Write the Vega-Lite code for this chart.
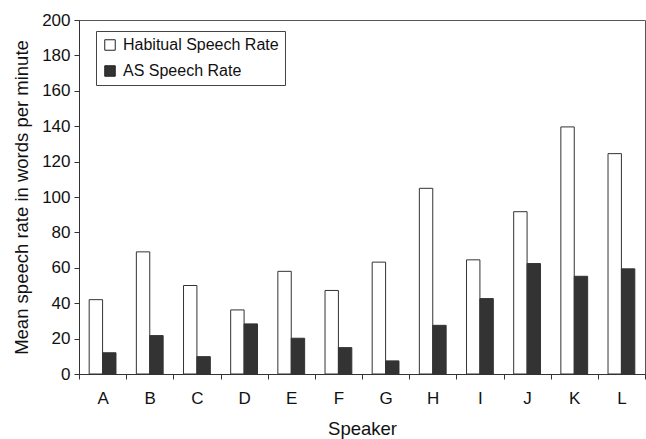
{
  "$schema": "https://vega.github.io/schema/vega-lite/v6.json",
  "width": 566,
  "height": 354,
  "autosize": {"type": "none"},
  "padding": {"left": 79, "top": 20, "right": 1, "bottom": 65},
  "background": "white",
  "config": {
    "font": "Liberation Sans",
    "view": {"stroke": "#555", "strokeWidth": 1},
    "axis": {"grid": false, "domainColor": "#333", "tickColor": "#333", "labelColor": "#111", "titleColor": "#111", "labelFontWeight": "normal", "titleFontWeight": "normal"}
  },
  "data": {
    "values": [
      {"speaker": "A", "measure": "Habitual Speech Rate", "rate": 42},
      {"speaker": "A", "measure": "AS Speech Rate", "rate": 12},
      {"speaker": "B", "measure": "Habitual Speech Rate", "rate": 69},
      {"speaker": "B", "measure": "AS Speech Rate", "rate": 21.7},
      {"speaker": "C", "measure": "Habitual Speech Rate", "rate": 50},
      {"speaker": "C", "measure": "AS Speech Rate", "rate": 9.8},
      {"speaker": "D", "measure": "Habitual Speech Rate", "rate": 36.2},
      {"speaker": "D", "measure": "AS Speech Rate", "rate": 28.3},
      {"speaker": "E", "measure": "Habitual Speech Rate", "rate": 58},
      {"speaker": "E", "measure": "AS Speech Rate", "rate": 20.2},
      {"speaker": "F", "measure": "Habitual Speech Rate", "rate": 47.2},
      {"speaker": "F", "measure": "AS Speech Rate", "rate": 14.9},
      {"speaker": "G", "measure": "Habitual Speech Rate", "rate": 63.2},
      {"speaker": "G", "measure": "AS Speech Rate", "rate": 7.4},
      {"speaker": "H", "measure": "Habitual Speech Rate", "rate": 104.9},
      {"speaker": "H", "measure": "AS Speech Rate", "rate": 27.5},
      {"speaker": "I", "measure": "Habitual Speech Rate", "rate": 64.5},
      {"speaker": "I", "measure": "AS Speech Rate", "rate": 42.6},
      {"speaker": "J", "measure": "Habitual Speech Rate", "rate": 91.7},
      {"speaker": "J", "measure": "AS Speech Rate", "rate": 62.4},
      {"speaker": "K", "measure": "Habitual Speech Rate", "rate": 139.6},
      {"speaker": "K", "measure": "AS Speech Rate", "rate": 55.2},
      {"speaker": "L", "measure": "Habitual Speech Rate", "rate": 124.5},
      {"speaker": "L", "measure": "AS Speech Rate", "rate": 59.4}
    ]
  },
  "mark": {"type": "bar", "stroke": "#333", "strokeWidth": 1},
  "encoding": {
    "x": {
      "field": "speaker", "type": "nominal", "title": "Speaker",
      "scale": {"paddingInner": 0, "paddingOuter": 0},
      "axis": {"labelAngle": 0, "labelFontSize": 17, "titleFontSize": 18.5, "tickBand": "extent", "tickSize": 5, "labelPadding": 11, "titlePadding": 13}
    },
    "xOffset": {
      "field": "measure", "type": "nominal",
      "sort": ["Habitual Speech Rate", "AS Speech Rate"],
      "scale": {"paddingInner": 0, "paddingOuter": 0.76}
    },
    "y": {
      "field": "rate", "type": "quantitative",
      "title": "Mean speech rate in words per minute",
      "scale": {"domain": [0, 200], "nice": false},
      "axis": {"values": [0, 20, 40, 60, 80, 100, 120, 140, 160, 180, 200], "labelFontSize": 17, "titleFontSize": 18.5, "tickSize": 5, "labelPadding": 4, "titlePadding": 10}
    },
    "color": {
      "field": "measure", "type": "nominal",
      "sort": ["Habitual Speech Rate", "AS Speech Rate"],
      "scale": {"domain": ["Habitual Speech Rate", "AS Speech Rate"], "range": ["#ffffff", "#333333"]},
      "legend": {
        "title": null, "orient": "none", "legendX": 17, "legendY": 11,
        "symbolType": "square", "symbolSize": 110, "symbolStrokeColor": "#222", "symbolStrokeWidth": 1,
        "labelFontSize": 16, "labelColor": "#111", "rowPadding": 10,
        "strokeColor": "#444", "fillColor": "white", "padding": 6, "labelOffset": 5
      }
    }
  }
}
